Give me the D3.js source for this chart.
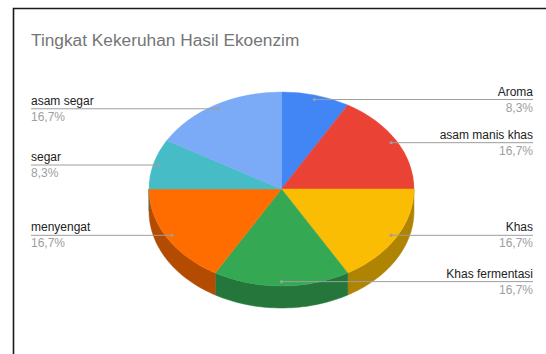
<!DOCTYPE html>
<html>
<head>
<meta charset="utf-8">
<script src="https://cdn.jsdelivr.net/npm/d3@7/dist/d3.min.js"></script>
<style>
html,body{margin:0;padding:0;background:#fff;}
svg{display:block;}
</style>
</head>
<body>
<svg id="chart" width="546" height="354"></svg>
<script>
const categories = ["Aroma", "asam manis khas", "Khas", "Khas fermentasi", "menyengat", "segar", "asam segar"];
const values = [1, 2, 2, 2, 2, 1, 2];
const colors = ["#4285F4", "#EA4335", "#FBBC04", "#34A853", "#FF6D01", "#46BDC6", "#7BAAF7"];
const title = "Tingkat Kekeruhan Hasil Ekoenzim";

const W = 546, H = 354;
const cx = 281.5, cy = 189, rx = 132.5, ry = 97, depth = 22;
const svg = d3.select("#chart");

// frame
svg.append("path")
  .attr("d", `M13.5,${H} L13.5,8.5 L${W},8.5`)
  .attr("fill", "none").attr("stroke", "#1a1a1a").attr("stroke-width", 1.6);

svg.append("text")
  .attr("x", 31).attr("y", 46)
  .attr("font-family", "Liberation Sans, Arial, sans-serif")
  .attr("font-size", 17.3)
  .attr("fill", "#757575")
  .text(title);

const locale = d3.formatLocale({decimal: ",", thousands: ".", grouping: [3], currency: ["", ""]});
const fmt = locale.format(".1%");
const total = d3.sum(values);

const pie = d3.pie().sort(null).value(d => d).startAngle(0).endAngle(2 * Math.PI);
const arcs = pie(values);

const px = a => cx + rx * Math.sin(a);
const py = a => cy - ry * Math.cos(a);

// sides (front half: angles between PI/2 and 3PI/2)
const sideG = svg.append("g");
arcs.forEach((d, i) => {
  const a0 = Math.max(d.startAngle, Math.PI / 2);
  const a1 = Math.min(d.endAngle, 3 * Math.PI / 2);
  if (a1 <= a0) return;
  const n = 40;
  const angs = d3.range(n + 1).map(k => a0 + (a1 - a0) * k / n);
  const top = angs.map(a => [px(a), py(a)]);
  const bot = angs.slice().reverse().map(a => [px(a), py(a) + depth]);
  const line = d3.line();
  sideG.append("path")
    .attr("d", line(top.concat(bot)) + "Z")
    .attr("fill", d3.color(colors[i]).darker(1.0))
    .attr("stroke", d3.color(colors[i]).darker(1.0))
    .attr("stroke-width", 0.5);
});

// top surface
const arcGen = d3.arc().innerRadius(0).outerRadius(1);
const topG = svg.append("g").attr("transform", `translate(${cx},${cy}) scale(${rx},${ry})`);
topG.selectAll("path").data(arcs).join("path")
  .attr("d", arcGen)
  .attr("fill", (d, i) => colors[i])
  .attr("stroke", (d, i) => colors[i])
  .attr("stroke-width", 0.004);

// labels
const f = 0.955;
const lab = svg.append("g")
  .attr("font-family", "Liberation Sans, Arial, sans-serif")
  .attr("font-size", 12);
arcs.forEach((d, i) => {
  const m = (d.startAngle + d.endAngle) / 2;
  const dx = cx + rx * f * Math.sin(m);
  const dy = cy - ry * f * Math.cos(m);
  const right = Math.sin(m) > 0 || (Math.abs(Math.sin(m)) < 1e-6);
  const xEnd = right ? 533 : 31;
  lab.append("line")
    .attr("x1", dx).attr("y1", dy).attr("x2", xEnd).attr("y2", dy)
    .attr("stroke", "#9e9e9e").attr("stroke-width", 1);
  lab.append("circle").attr("cx", dx).attr("cy", dy).attr("r", 1.6).attr("fill", "#9e9e9e");
  lab.append("text")
    .attr("x", xEnd).attr("y", dy - 4)
    .attr("text-anchor", right ? "end" : "start")
    .attr("fill", "#222")
    .text(categories[i]);
  lab.append("text")
    .attr("x", xEnd).attr("y", dy + 12)
    .attr("text-anchor", right ? "end" : "start")
    .attr("fill", "#9e9e9e")
    .text(fmt(values[i] / total));
});
</script>
</body>
</html>
